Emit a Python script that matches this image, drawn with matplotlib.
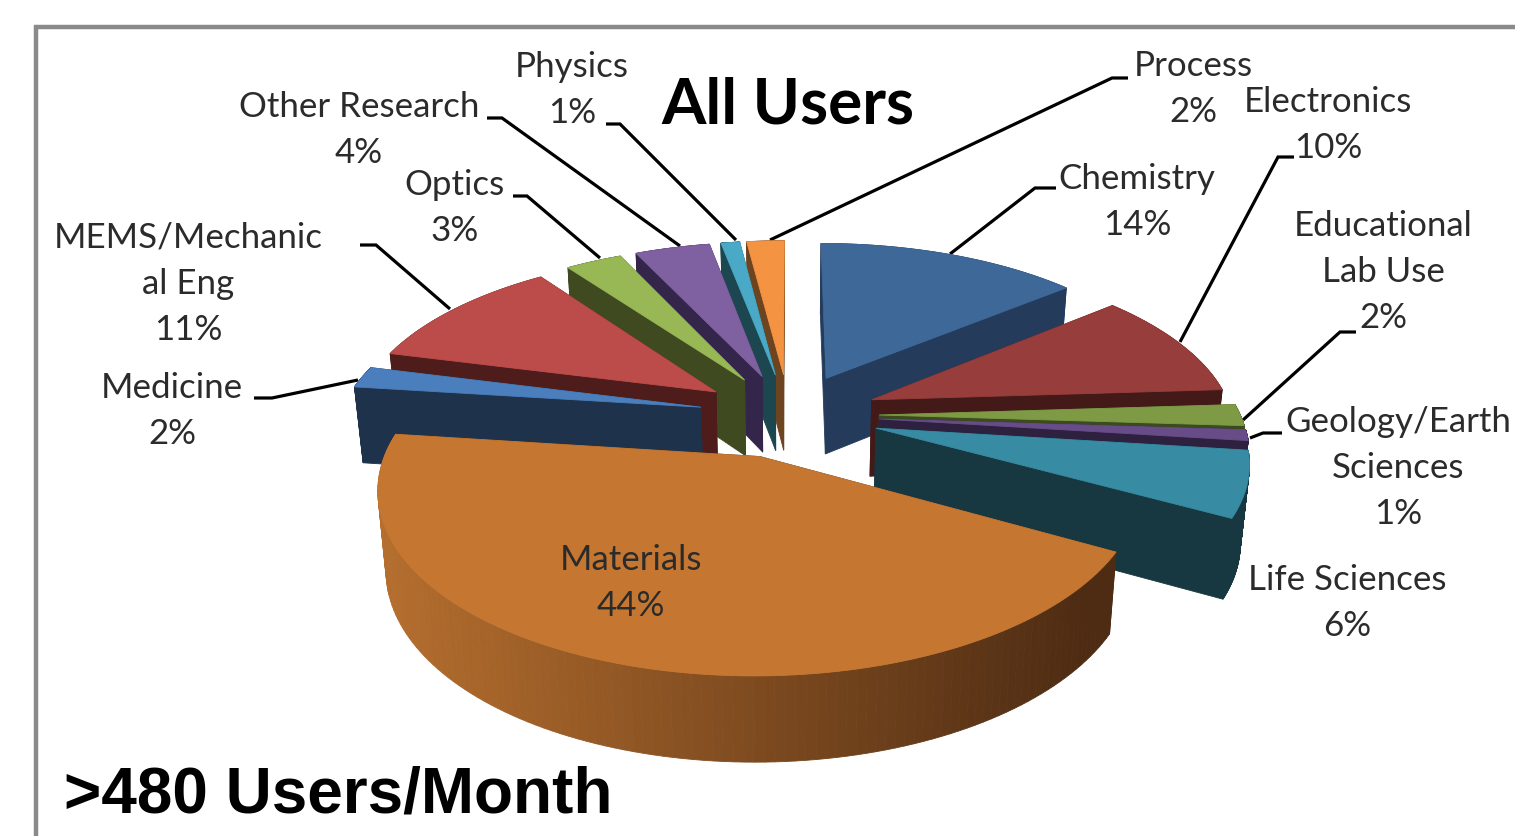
import numpy as np
import matplotlib
matplotlib.use("Agg")
import matplotlib.pyplot as plt
from matplotlib.patches import Polygon

# ---- data ----
categories = ["Chemistry", "Electronics", "Educational Lab Use", "Geology/Earth Sciences",
              "Life Sciences", "Materials", "Medicine", "MEMS/Mechanical Eng",
              "Optics", "Other Research", "Physics", "Process"]
shares = [14, 10, 2, 1, 6, 44, 2, 11, 3, 4, 1, 2]
label_texts = ["Chemistry\n14%", "Electronics\n10%", "Educational\nLab Use\n2%",
               "Geology/Earth\nSciences\n1%", "Life Sciences\n6%", "Materials\n44%",
               "Medicine\n2%", "MEMS/Mechanic\nal Eng\n11%", "Optics\n3%",
               "Other Research\n4%", "Physics\n1%", "Process\n2%"]
top_colors = ["#3D6898", "#973D3B", "#7E9A44", "#684C88", "#378BA3", "#C57732",
              "#4B7EBC", "#BC4C4A", "#98B856", "#7F60A0", "#4AA9C6", "#F49342"]
wall_light = ["#243B5B", "#431A17", "#3C4A20", "#2E2140", "#173840", "#B56E2E",
              "#1E324B", "#4E1D1B", "#3F4A20", "#33264A", "#1C4650", "#6E4420"]
wall_dark = ["#243B5B", "#431A17", "#3C4A20", "#2E2140", "#173840", "#4E2C13",
             "#1E324B", "#4E1D1B", "#3F4A20", "#33264A", "#1C4650", "#6E4420"]

# ---- layout (pixel canvas) ----
W, H = 1515, 836
CX, CY, RX, RY = 789, 415, 361, 168
PERSP, EXPLODE, DEPTH, TAPER = 0.164, 0.25, 77, 0.02

label_pos = [(1137, 202), (1328, 125), (1383, 272), (1398, 468), (1347, 603), (631, 583),
             (172, 411), (188, 284), (455, 208), (359, 130), (572, 90), (1193, 89)]
leaders = [
    [(1056, 188), (1035, 188), (950, 254)],
    [(1294, 157), (1278, 157), (1180, 342)],
    [(1356, 332), (1340, 332), (1243, 420)],
    [(1282, 433), (1263, 433), (1250, 438)],
    [(254, 398), (272, 398), (358, 380)],
    [(360, 245), (376, 245), (450, 309)],
    [(513, 196), (527, 196), (600, 258)],
    [(487, 118), (502, 118), (680, 246)],
    [(606, 124), (620, 124), (736, 240)],
    [(1128, 78), (1112, 78), (770, 240)],
]

fig = plt.figure(figsize=(W / 100, H / 100), dpi=100, facecolor="white")
ax = fig.add_axes([0, 0, 1, 1])
ax.set_xlim(0, W)
ax.set_ylim(H, 0)
ax.axis("off")


def project(a, b, z=0.0):
    s = 1.0 / (1.0 - PERSP * b)
    return CX + RX * a * s * (1 - TAPER * z), CY + RY * b * s + z * DEPTH * np.sqrt(s)


def mix(c1, c2, t):
    c1, c2 = np.array(matplotlib.colors.to_rgb(c1)), np.array(matplotlib.colors.to_rgb(c2))
    return c1 + (c2 - c1) * t


def poly(points, color, z):
    ax.add_patch(Polygon(points, closed=True, facecolor=color, edgecolor=color, lw=0.6, zorder=z))


fractions = np.array(shares, dtype=float) / sum(shares)
ends = np.cumsum(fractions) * 2 * np.pi
starts = ends - fractions * 2 * np.pi
mids = (starts + ends) / 2
order = np.argsort(-np.cos(mids))  # back slices first

for rank, i in enumerate(order):
    z = 10 + rank
    ox, oy = EXPLODE * np.sin(mids[i]), -EXPLODE * np.cos(mids[i])
    th = np.linspace(starts[i], ends[i], 120)
    aa, bb = ox + np.sin(th), oy - np.cos(th)
    top_rim = [project(p, q) for p, q in zip(aa, bb)]
    low_rim = [project(p, q, 1) for p, q in zip(aa, bb)]
    apex_t, apex_b = project(ox, oy), project(ox, oy, 1)

    # radial faces, farther one first
    faces = sorted([0, -1], key=lambda k: bb[k])
    for k in faces:
        poly([apex_t, top_rim[k], low_rim[k], apex_b], wall_dark[i], z)
    # outer wall, shaded strip by strip from left to right on the screen
    xs = np.array([p[0] for p in top_rim])
    xmin, xmax = project(-1.05, 0.5)[0], project(0.75, 0.5)[0]
    for k in range(len(th) - 1):
        t = np.clip((0.5 * (xs[k] + xs[k + 1]) - xmin) / (xmax - xmin), 0, 1)
        poly([top_rim[k], top_rim[k + 1], low_rim[k + 1], low_rim[k]],
             mix(wall_light[i], wall_dark[i], t), z)
    # top surface
    poly([apex_t] + top_rim, top_colors[i], z)

# leader lines
for pts in leaders:
    ax.plot([p[0] for p in pts], [p[1] for p in pts], color="black", lw=2.3, zorder=5,
            solid_capstyle="butt", solid_joinstyle="miter")

# data labels
for txt, (x, y) in zip(label_texts, label_pos):
    ax.text(x, y, txt, ha="center", va="center", family="Lato", fontsize=25.1,
            color="#2b2b2b", linespacing=1.55, zorder=60)

# titles
ax.text(788, 105, "All Users", ha="center", va="center", family="Lato", weight="bold",
        fontsize=46, color="black", zorder=60)
ax.text(64, 796, ">480 Users/Month", ha="left", va="center", family="Liberation Sans",
        weight="bold", fontsize=46, color="black", zorder=60)

# chart frame
ax.plot([36, 36, W + 5], [H + 5, 27, 27], color="#8a8a8a", lw=3.2, zorder=4,
        solid_joinstyle="miter")

fig.savefig("out.png", dpi=100, facecolor="white")
